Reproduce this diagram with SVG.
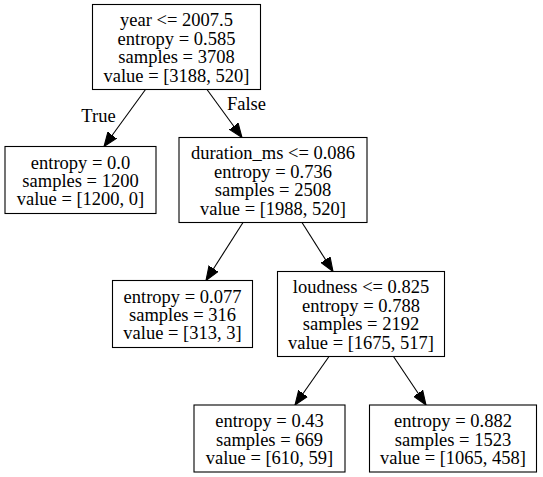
<svg xmlns="http://www.w3.org/2000/svg" width="543" height="477" viewBox="0 0 543 477">
<style>
.box{fill:#fff;stroke:#000;stroke-width:1.1}
text{font-family:"Liberation Serif","Times New Roman",serif;font-size:18.5px;fill:#000;text-anchor:middle}
.edge{stroke:#000;stroke-width:1.1;fill:none;marker-end:url(#arr)}
</style>
<defs>
<marker id="arr" markerUnits="userSpaceOnUse" markerWidth="14" markerHeight="12" viewBox="0 0 13 10" refX="13" refY="5" orient="auto">
<path d="M0,0 L13,5 L0,10 Z" fill="#000" stroke="#000" stroke-width="1"/>
</marker>
</defs>
<rect width="543" height="477" fill="#fff"/>
<g id="connectors">
<line class="edge" x1="145.5" y1="89.5" x2="104" y2="146.5"/>
<line class="edge" x1="207" y1="89.5" x2="242" y2="137.5"/>
<line class="edge" x1="243" y1="222.5" x2="206" y2="280.5"/>
<line class="edge" x1="302" y1="222.5" x2="333" y2="271.5"/>
<line class="edge" x1="329" y1="356.5" x2="295" y2="405"/>
<line class="edge" x1="393.5" y1="356.5" x2="426" y2="405"/>
<text x="98.5" y="121.5">True</text>
<text x="246.5" y="110">False</text>
</g>
<g id="node0">
<rect class="box" x="92.5" y="4.5" width="168" height="85"/>
<text x="176.5" y="26.4">year &lt;= 2007.5</text>
<text x="176.5" y="44.8">entropy = 0.585</text>
<text x="176.5" y="63.2">samples = 3708</text>
<text x="176.5" y="81.6">value = [3188, 520]</text>
</g>
<g id="node1">
<rect class="box" x="5" y="146.5" width="151" height="67"/>
<text x="80.5" y="168.6">entropy = 0.0</text>
<text x="80.5" y="187">samples = 1200</text>
<text x="80.5" y="205.4">value = [1200, 0]</text>
</g>
<g id="node2">
<rect class="box" x="179" y="137.5" width="188" height="85"/>
<text x="273" y="159.4">duration_ms &lt;= 0.086</text>
<text x="273" y="177.8">entropy = 0.736</text>
<text x="273" y="196.2">samples = 2508</text>
<text x="273" y="214.6">value = [1988, 520]</text>
</g>
<g id="node3">
<rect class="box" x="112.5" y="280.5" width="140" height="67"/>
<text x="182.5" y="302.6">entropy = 0.077</text>
<text x="182.5" y="321">samples = 316</text>
<text x="182.5" y="339.4">value = [313, 3]</text>
</g>
<g id="node4">
<rect class="box" x="277.5" y="271.5" width="167" height="85"/>
<text x="361" y="293.4">loudness &lt;= 0.825</text>
<text x="361" y="311.8">entropy = 0.788</text>
<text x="361" y="330.2">samples = 2192</text>
<text x="361" y="348.6">value = [1675, 517]</text>
</g>
<g id="node5">
<rect class="box" x="194" y="405" width="151" height="67"/>
<text x="269.5" y="427.1">entropy = 0.43</text>
<text x="269.5" y="445.5">samples = 669</text>
<text x="269.5" y="463.9">value = [610, 59]</text>
</g>
<g id="node6">
<rect class="box" x="369.5" y="405" width="167" height="67"/>
<text x="453" y="427.1">entropy = 0.882</text>
<text x="453" y="445.5">samples = 1523</text>
<text x="453" y="463.9">value = [1065, 458]</text>
</g>
</svg>
